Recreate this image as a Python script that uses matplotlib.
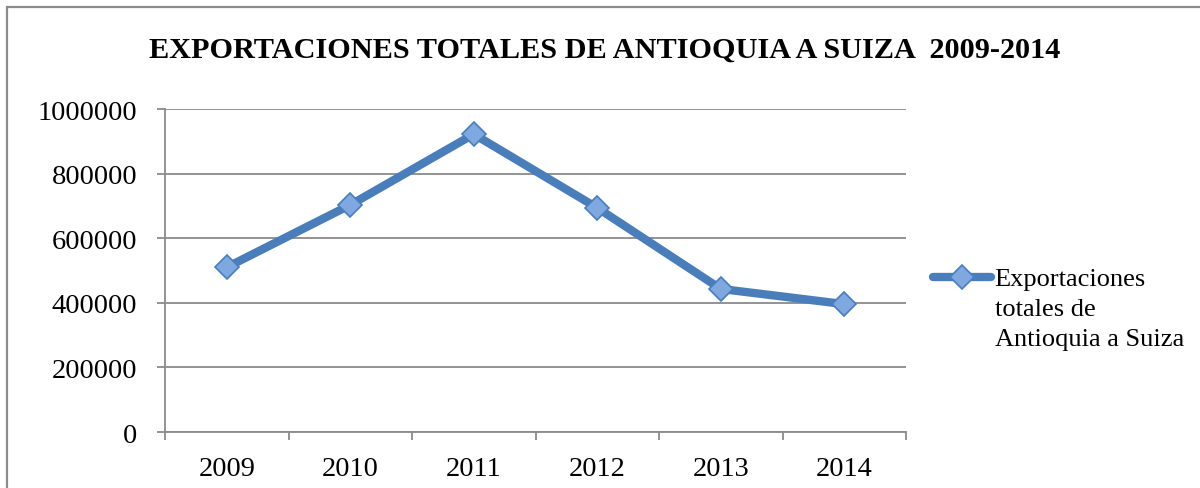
import numpy as np
import matplotlib.pyplot as plt
from matplotlib.patches import Rectangle

years = ['2009', '2010', '2011', '2012', '2013', '2014']
exports = [510000, 703000, 922000, 694000, 443000, 396000]
yticks = [0, 200000, 400000, 600000, 800000, 1000000]
title = 'EXPORTACIONES TOTALES DE ANTIOQUIA A SUIZA  2009-2014'
series_name = 'Exportaciones\ntotales de\nAntioquia a Suiza'

plt.rcParams['font.family'] = 'Liberation Serif'

fig = plt.figure(figsize=[12, 4.89], dpi=100)
ax = fig.add_axes([0.1375, 0.1145, 0.6175, 0.6605])

# Outer frame of the chart
fig.patches.append(Rectangle((0.0058, -0.05), 1.1, 1.0336, transform=fig.transFigure,
                             fill=False, edgecolor='#8c8c8c', linewidth=1.6, clip_on=False))

x = np.arange(len(years))
ax.plot(x, exports, color='#4A7EBB', linewidth=6, solid_capstyle='round',
        marker='D', markersize=12, markerfacecolor='#7FA7E0', markeredgecolor='#4A7EBB',
        markeredgewidth=1.2, label=series_name, zorder=3)

ax.set_xlim(-0.5, len(years) - 0.5)
ax.set_ylim(0, 1000000)
ax.set_yticks(yticks)
ax.set_yticklabels([str(v) for v in yticks])
ax.set_xticks(x)
ax.set_xticklabels(years)
ax.set_xticks(np.arange(-0.5, len(years)), minor=True)

ax.grid(axis='y', color='#8a8a8a', linewidth=1.3)
ax.set_axisbelow(True)
for s in ['top', 'right']:
    ax.spines[s].set_visible(False)
for s in ['left', 'bottom']:
    ax.spines[s].set_color('#8a8a8a')
    ax.spines[s].set_linewidth(1.3)

ax.tick_params(axis='y', length=6, width=1.3, color='#8a8a8a', pad=14, labelsize=20.5)
ax.tick_params(axis='x', which='major', length=0, pad=17, labelsize=20.5)
ax.tick_params(axis='x', which='minor', length=6, width=1.3, color='#8a8a8a')

fig.suptitle(title, x=0.504, y=0.925, fontsize=21.8, fontweight='bold')

leg = ax.legend(loc='upper left', bbox_to_anchor=(1.018, 0.548), frameon=False, fontsize=19,
                handlelength=2.2, handletextpad=0.15, borderpad=0, labelspacing=0.2)
for t in leg.get_texts():
    t.set_linespacing(1.45)
# put the legend line next to the first line of the label
for col in leg._legend_handle_box.get_children():
    for row in col.get_children():
        row.align = 'top'

fig.savefig('out.png', dpi=100)
